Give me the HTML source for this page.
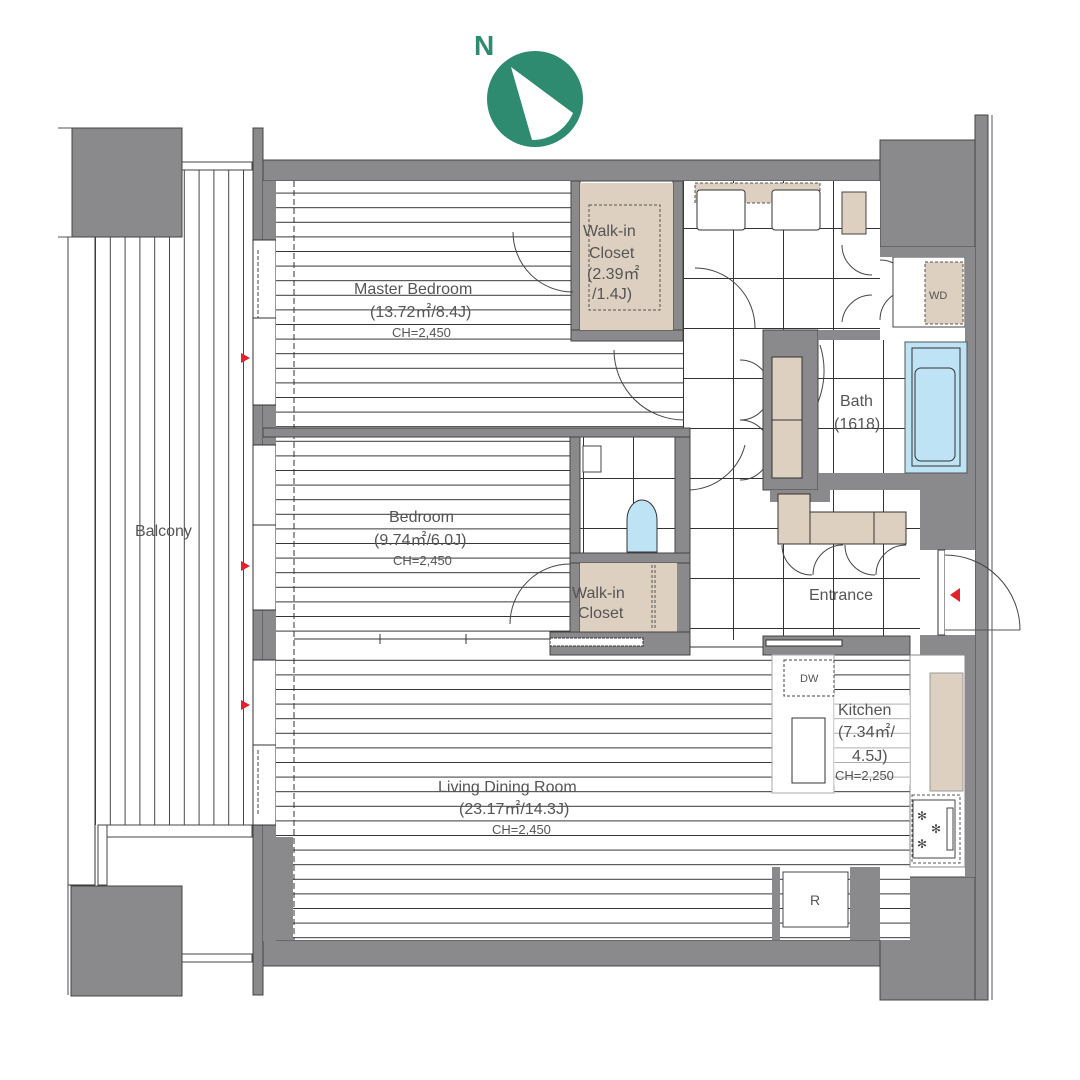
<!DOCTYPE html>
<html><head><meta charset="utf-8"><style>
html,body{margin:0;padding:0;background:#fff;}
svg{display:block;}
text{font-family:"Liberation Sans",sans-serif;fill:#555;}
</style></head><body>
<svg width="1080" height="1080" viewBox="0 0 1080 1080" xmlns="http://www.w3.org/2000/svg">
<defs>
<pattern id="hl" x="0" y="178" width="20" height="14.6" patternUnits="userSpaceOnUse">
<rect width="20" height="14.6" fill="#fff"/><line x1="0" y1="0.5" x2="20" y2="0.5" stroke="#333" stroke-width="1"/></pattern>
<pattern id="vl" x="95" y="0" width="14.8" height="20" patternUnits="userSpaceOnUse">
<rect width="14.8" height="20" fill="#fff"/><line x1="0.5" y1="0" x2="0.5" y2="20" stroke="#444" stroke-width="1"/></pattern>
<pattern id="tile" x="683" y="178" width="50" height="50" patternUnits="userSpaceOnUse">
<rect width="50" height="50" fill="#fff"/><path d="M0 0.5H50M0.5 0V50" stroke="#333" stroke-width="1"/></pattern>
</defs>

<!-- compass -->
<text x="474" y="55" font-size="28" font-weight="bold" style="fill:#2e8b70">N</text>
<circle cx="535" cy="99" r="48" fill="#2e8b70"/>
<path d="M511 67 L532 140 A44 44 0 0 0 573 113 Z" fill="#fff"/>

<!-- balcony -->
<rect x="182" y="170" width="70" height="655" fill="url(#vl)"/>
<rect x="95" y="237" width="90" height="588" fill="url(#vl)"/>
<rect x="68" y="237" width="27" height="648" fill="#fff" stroke="#333"/>
<line x1="68" y1="237" x2="68" y2="995" stroke="#444"/>
<line x1="58" y1="128" x2="72" y2="128" stroke="#555"/>
<line x1="58" y1="237" x2="72" y2="237" stroke="#555"/>
<rect x="182" y="162" width="70" height="8" fill="#fff" stroke="#444"/>
<rect x="98" y="825" width="154" height="12" fill="#fff" stroke="#444"/>
<rect x="98" y="825" width="9" height="60" fill="#fff" stroke="#444"/>
<rect x="182" y="954" width="70" height="8" fill="#fff" stroke="#444"/>
<rect x="72" y="128" width="110" height="109" fill="#8a8a8d" stroke="#444"/>
<rect x="71" y="886" width="111" height="110" fill="#8a8a8d" stroke="#444"/>
<text x="135" y="536" font-size="16">Balcony</text>

<!-- outer walls -->
<rect x="253" y="128" width="10" height="867" fill="#8a8a8d" stroke="#444"/>
<rect x="263" y="160" width="617" height="21" fill="#8a8a8d" stroke="#444"/>
<rect x="263" y="940" width="617" height="26" fill="#8a8a8d" stroke="#444"/>
<rect x="263" y="181" width="13" height="760" fill="#8a8a8d"/>
<rect x="975" y="115" width="13" height="885" fill="#8a8a8d" stroke="#444"/>
<line x1="992" y1="115" x2="992" y2="1000" stroke="#555"/>
<rect x="880" y="140" width="95" height="107" fill="#8a8a8d" stroke="#444"/>
<rect x="880" y="877" width="95" height="123" fill="#8a8a8d" stroke="#444"/>

<!-- windows on west wall -->
<rect x="253" y="240" width="23" height="165" fill="#fff" stroke="#333"/>
<line x1="258" y1="250" x2="258" y2="318" stroke="#444" stroke-dasharray="4,2"/>
<line x1="253" y1="318" x2="276" y2="318" stroke="#333"/>
<rect x="253" y="445" width="23" height="165" fill="#fff" stroke="#333"/>
<line x1="253" y1="525" x2="276" y2="525" stroke="#333"/>
<rect x="253" y="660" width="23" height="165" fill="#fff" stroke="#333"/>
<line x1="253" y1="745" x2="276" y2="745" stroke="#333"/>
<line x1="258" y1="750" x2="258" y2="815" stroke="#444" stroke-dasharray="4,2"/>
<polygon points="241,353 250,358 241,363" fill="#e5202a"/>
<polygon points="241,561 250,566 241,571" fill="#e5202a"/>
<polygon points="241,700 250,705 241,710" fill="#e5202a"/>

<!-- floors -->
<rect x="276" y="181" width="295" height="247" fill="url(#hl)"/>
<rect x="571" y="341" width="112" height="87" fill="url(#hl)"/>
<rect x="276" y="437" width="294" height="203" fill="url(#hl)"/>
<rect x="276" y="655" width="634" height="285" fill="url(#hl)"/>
<line x1="294" y1="181" x2="294" y2="940" stroke="#333" stroke-dasharray="6,3"/>
<rect x="263" y="837" width="30" height="103" fill="#8a8a8d"/>

<!-- hall tiles -->
<rect x="683" y="181" width="197" height="149" fill="url(#tile)"/>
<rect x="683" y="330" width="87" height="310" fill="url(#tile)"/>
<rect x="770" y="490" width="150" height="150" fill="url(#tile)"/>
<rect x="580" y="437" width="95" height="116" fill="url(#tile)"/>
<rect x="818" y="340" width="88" height="133" fill="url(#tile)"/>

<!-- interior walls -->
<rect x="263" y="428" width="427" height="9" fill="#8a8a8d" stroke="#444"/>
<rect x="571" y="181" width="9" height="160" fill="#8a8a8d" stroke="#444"/>
<rect x="673" y="181" width="10" height="160" fill="#8a8a8d" stroke="#444"/>
<rect x="571" y="330" width="112" height="11" fill="#8a8a8d" stroke="#444"/>
<rect x="580" y="183" width="93" height="147" fill="#ddd0c0"/>
<rect x="589" y="205" width="71" height="105" fill="none" stroke="#555" stroke-dasharray="3,2"/>
<rect x="570" y="437" width="10" height="218" fill="#8a8a8d" stroke="#444"/>
<rect x="675" y="437" width="15" height="218" fill="#8a8a8d" stroke="#444"/>
<rect x="570" y="553" width="120" height="10" fill="#8a8a8d" stroke="#444"/>
<rect x="580" y="563" width="97" height="69" fill="#ddd0c0"/>
<line x1="652" y1="565" x2="652" y2="630" stroke="#555" stroke-dasharray="3,2"/>
<line x1="655" y1="565" x2="655" y2="630" stroke="#555" stroke-dasharray="3,2"/>
<rect x="550" y="632" width="140" height="23" fill="#8a8a8d" stroke="#444"/>
<rect x="550" y="638" width="93" height="8" fill="#fff" stroke="#333" stroke-dasharray="3,1"/>
<rect x="763" y="636" width="147" height="19" fill="#8a8a8d" stroke="#444"/>
<rect x="766" y="640" width="76" height="6" fill="#fff" stroke="#333"/>
<line x1="690" y1="647" x2="763" y2="647" stroke="#333"/>
<line x1="380" y1="634" x2="380" y2="644" stroke="#333"/>
<line x1="466" y1="634" x2="466" y2="644" stroke="#333"/>
<line x1="294" y1="639" x2="550" y2="639" stroke="#333"/>

<!-- doors (arcs) -->
<g fill="none" stroke="#444" stroke-width="1">
<path d="M513 232 A60 60 0 0 0 573 292"/>
<path d="M614 350 A70 70 0 0 0 684 420"/>
<path d="M695 268 A60 60 0 0 1 755 328"/>
<path d="M510 624 A60 60 0 0 1 570 564"/>
<path d="M740 360 A30 30 0 0 1 770 390 M740 420 A30 30 0 0 0 770 390"/>
<path d="M740 420 A30 30 0 0 1 770 450 M740 480 A30 30 0 0 0 770 450"/>
<path d="M690 490 A60 60 0 0 0 745 445"/>
<path d="M842 245 A30 30 0 0 0 872 275 M872 295 A30 30 0 0 0 842 322"/>
<path d="M880 260 A30 30 0 0 1 910 290 M880 320 A30 30 0 0 1 910 290"/>
<path d="M820 345 A85 85 0 0 1 800 430"/>
<path d="M782 545 A30 30 0 0 0 812 575 M843 545 A30 30 0 0 0 813 575"/>
<path d="M845 545 A30 30 0 0 0 875 575 M906 545 A30 30 0 0 0 876 575"/>
</g>

<!-- washroom -->
<rect x="695" y="183" width="125" height="20" fill="#ddd0c0" stroke="#555" stroke-dasharray="3,2"/>
<rect x="697" y="190" width="48" height="40" rx="3" fill="#fff" stroke="#333"/>
<rect x="772" y="190" width="48" height="40" rx="3" fill="#fff" stroke="#333"/>
<rect x="842" y="192" width="24" height="42" fill="#ddd0c0" stroke="#444"/>
<rect x="893" y="257" width="72" height="70" fill="#fff" stroke="#444"/>
<rect x="925" y="262" width="38" height="62" fill="#ddd0c0" stroke="#555" stroke-dasharray="3,2"/>
<text x="929" y="299" font-size="11">WD</text>
<rect x="880" y="247" width="95" height="10" fill="#8a8a8d"/>
<rect x="965" y="247" width="10" height="630" fill="#8a8a8d"/>

<!-- bath block -->
<rect x="763" y="330" width="55" height="160" fill="#8a8a8d" stroke="#444"/>
<rect x="818" y="330" width="62" height="10" fill="#8a8a8d"/>
<rect x="818" y="473" width="157" height="17" fill="#8a8a8d"/>
<rect x="772" y="357" width="30" height="63" fill="#ddd0c0" stroke="#333"/>
<rect x="772" y="420" width="30" height="58" fill="#ddd0c0" stroke="#333"/>
<rect x="905" y="342" width="62" height="131" fill="#bde3f5" stroke="#555"/>
<rect x="912" y="348" width="48" height="118" fill="none" stroke="#333"/>
<rect x="915" y="368" width="40" height="93" rx="6" fill="none" stroke="#333"/>
<text x="840" y="406" font-size="16">Bath</text>
<text x="834" y="429" font-size="16">(1618)</text>

<!-- toilet -->
<rect x="583" y="446" width="18" height="26" fill="#fff" stroke="#444"/>
<path d="M627 552 V520 A15 20 0 0 1 657 520 V552 Z" fill="#bde3f5" stroke="#333"/>

<!-- entrance shoe cabinet -->
<rect x="770" y="490" width="60" height="12" fill="#8a8a8d"/>
<rect x="778" y="494" width="32" height="50" fill="#ddd0c0" stroke="#333"/>
<rect x="810" y="512" width="64" height="32" fill="#ddd0c0" stroke="#333"/>
<rect x="874" y="512" width="32" height="32" fill="#ddd0c0" stroke="#333"/>
<rect x="920" y="490" width="55" height="60" fill="#8a8a8d"/>
<rect x="920" y="635" width="55" height="20" fill="#8a8a8d"/>
<rect x="938" y="550" width="7" height="85" fill="#fff" stroke="#333"/>
<rect x="945" y="550" width="30" height="85" fill="#fff"/>
<path d="M945 555 A75 75 0 0 1 1020 630" fill="none" stroke="#444"/>
<line x1="945" y1="630" x2="1020" y2="630" stroke="#555"/>
<polygon points="960,588 950,595 960,602" fill="#e5202a"/>
<text x="809" y="600" font-size="16">Entrance</text>

<!-- kitchen -->
<rect x="910" y="655" width="55" height="212" fill="#fff" stroke="#888"/>
<rect x="930" y="673" width="33" height="118" fill="#ddd0c0" stroke="#999"/>
<rect x="912" y="795" width="48" height="68" fill="#fff" stroke="#555" stroke-dasharray="3,2"/>
<rect x="913" y="800" width="42" height="58" fill="#fff" stroke="#444"/>
<rect x="947" y="808" width="6" height="42" fill="#fff" stroke="#444"/>
<text x="917" y="820" font-size="12" style="fill:#444">✻</text>
<text x="931" y="833" font-size="12" style="fill:#444">✻</text>
<text x="917" y="848" font-size="12" style="fill:#444">✻</text>
<rect x="772" y="655" width="62" height="138" fill="#fff" stroke="#aaa"/>
<rect x="784" y="660" width="50" height="36" fill="#fff" stroke="#444" stroke-dasharray="3,2"/>
<text x="800" y="682" font-size="11">DW</text>
<rect x="792" y="718" width="33" height="65" fill="#fff" stroke="#333"/>
<rect x="834" y="695" width="76" height="90" fill="#fff" opacity="0.6"/>
<text x="838" y="715" font-size="16">Kitchen</text>
<text x="838" y="737" font-size="16">(7.34㎡/</text>
<text x="852" y="761" font-size="16">4.5J)</text>
<text x="835" y="780" font-size="13">CH=2,250</text>

<!-- R -->
<rect x="772" y="867" width="8" height="73" fill="#8a8a8d"/>
<rect x="850" y="867" width="30" height="73" fill="#8a8a8d"/>
<rect x="783" y="872" width="65" height="55" fill="#fff" stroke="#444"/>
<text x="810" y="905" font-size="14">R</text>

<!-- labels -->
<text x="354" y="294" font-size="16">Master Bedroom</text>
<text x="370" y="317" font-size="16">(13.72㎡/8.4J)</text>
<text x="392" y="337" font-size="13">CH=2,450</text>
<text x="583" y="236" font-size="16">Walk-in</text>
<text x="589" y="258" font-size="16">Closet</text>
<text x="587" y="279" font-size="16">(2.39㎡</text>
<text x="592" y="299" font-size="16">/1.4J)</text>
<text x="389" y="522" font-size="16">Bedroom</text>
<text x="374" y="545" font-size="16">(9.74㎡/6.0J)</text>
<text x="393" y="565" font-size="13">CH=2,450</text>
<text x="572" y="598" font-size="16">Walk-in</text>
<text x="578" y="618" font-size="16">Closet</text>
<text x="438" y="792" font-size="16">Living Dining Room</text>
<text x="459" y="814" font-size="16">(23.17㎡/14.3J)</text>
<text x="492" y="834" font-size="13">CH=2,450</text>
</svg>
</body></html>
